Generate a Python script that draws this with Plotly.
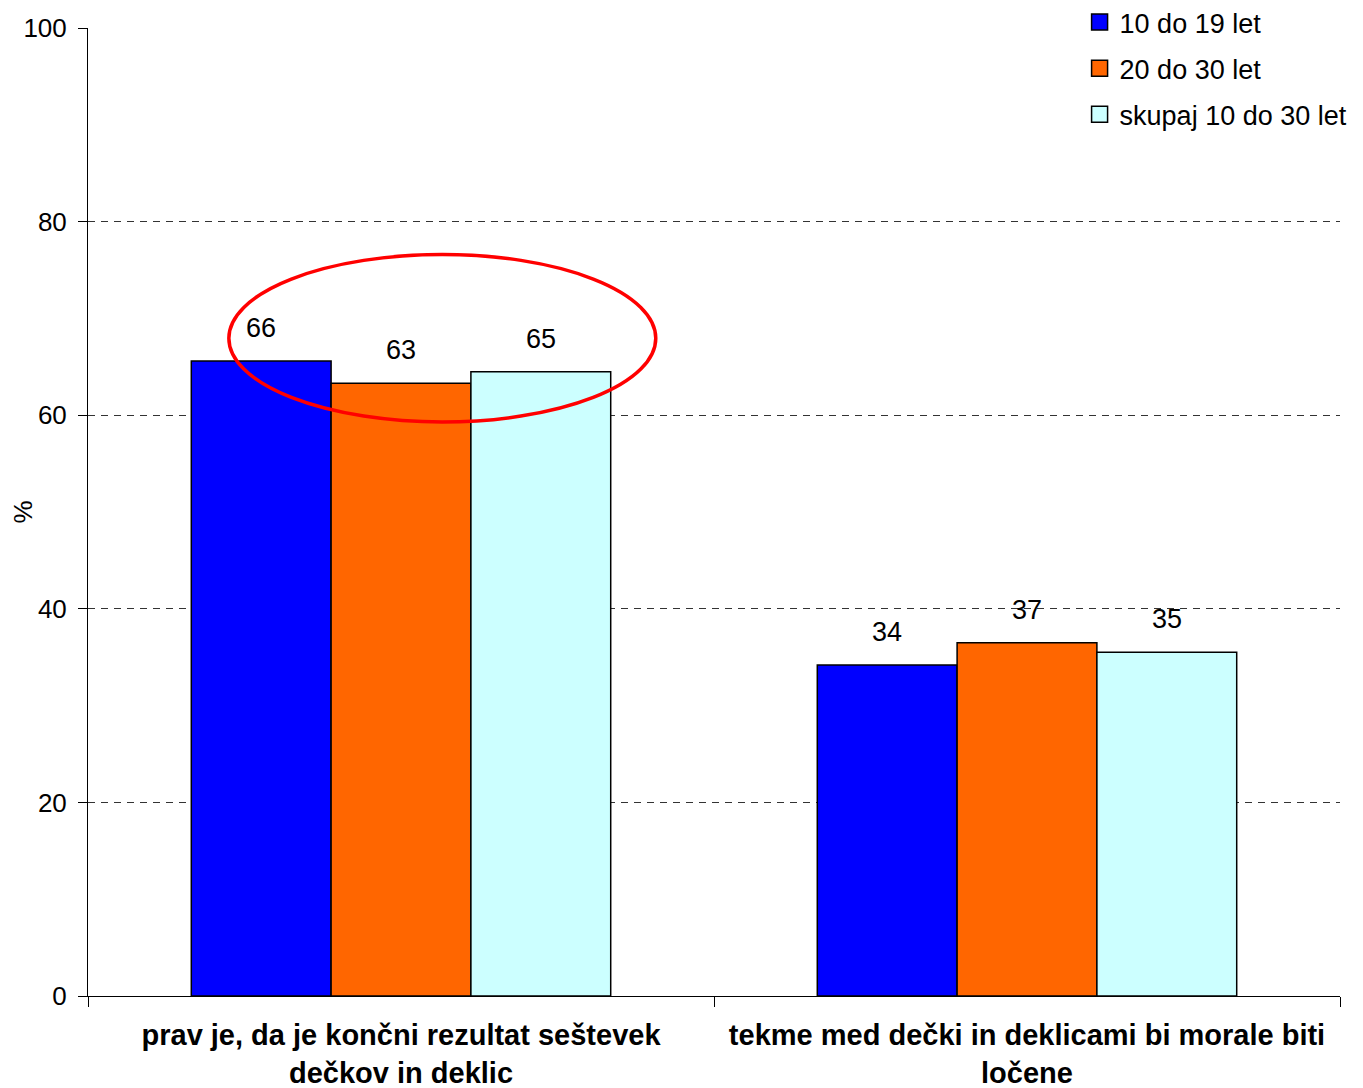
import plotly.graph_objects as go

categories = ["prav je, da je končni rezultat seštevek<br>dečkov in deklic",
              "tekme med dečki in deklicami bi morale biti<br>ločene"]
series_names = ["10 do 19 let", "20 do 30 let", "skupaj 10 do 30 let"]
values_1019 = [65.6, 34.2]
values_2030 = [63.3, 36.5]
values_total = [64.5, 35.5]
labels_1019 = ["66", "34"]
labels_2030 = ["63", "37"]
labels_total = ["65", "35"]
colors = ["#0000FF", "#FF6600", "#CCFFFF"]

FONT = "Liberation Sans, Arial, sans-serif"

fig = go.Figure()
all_vals = [values_1019, values_2030, values_total]
all_labels = [labels_1019, labels_2030, labels_total]

for i, name in enumerate(series_names):
    fig.add_trace(go.Bar(
        x=categories, y=all_vals[i], name=name,
        marker=dict(color=colors[i], line=dict(color="black", width=1.5)),
        showlegend=False,
    ))
    # legend-only entry with a bigger square swatch
    fig.add_trace(go.Scatter(
        x=[None], y=[None], mode="markers", name=name,
        marker=dict(symbol="square", size=16, color=colors[i],
                    line=dict(color="black", width=1.5)),
        legendgroup=name,
    ))

# value labels above the bars
group_width = 0.67
bw = group_width / 3
for i in range(3):
    for c in range(len(categories)):
        fig.add_annotation(
            x=c + (i - 1) * bw, y=all_vals[i][c], xref="x", yref="y",
            text=all_labels[i][c], showarrow=False, yanchor="bottom",
            yshift=16, font=dict(size=27, color="black", family=FONT),
        )

# red ellipse highlighting the first group
fig.add_shape(type="circle", xref="x", yref="y",
              x0=-0.275, x1=0.407, y0=59.3, y1=76.6,
              line=dict(color="#FF0000", width=3.5))

# page body adds 8px offset, so figure is 8px smaller
fig.update_layout(
    width=1355, height=1080,
    margin=dict(l=80, r=23, t=20, b=92, autoexpand=False),
    paper_bgcolor="white", plot_bgcolor="white",
    barmode="group", bargap=0.33, bargroupgap=0,
    font=dict(family=FONT, size=26, color="black"),
    showlegend=True,
    legend=dict(x=0.792, y=1.031, xanchor="left", yanchor="top",
                bgcolor="white", font=dict(size=27), tracegroupgap=8,
                itemwidth=30),
)
fig.update_xaxes(
    tickvals=categories,
    ticktext=["<b>" + c + "</b>" for c in categories],
    tickfont=dict(size=29),
    showline=True, linecolor="black", linewidth=1,
    ticks="outside", ticklen=10, tickcolor="black", tickson="boundaries",
    showgrid=False, automargin=False, ticklabelstandoff=13,
)
fig.update_yaxes(
    range=[0, 100], dtick=20,
    title=dict(text="%", font=dict(size=26), standoff=6),
    showline=True, linecolor="black", linewidth=1,
    ticks="outside", ticklen=9, tickcolor="black",
    showgrid=True, gridcolor="#333333", gridwidth=1, griddash="7px,6px",
    zeroline=False, ticklabelstandoff=6, automargin=False,
)

fig.write_html("out.html")
